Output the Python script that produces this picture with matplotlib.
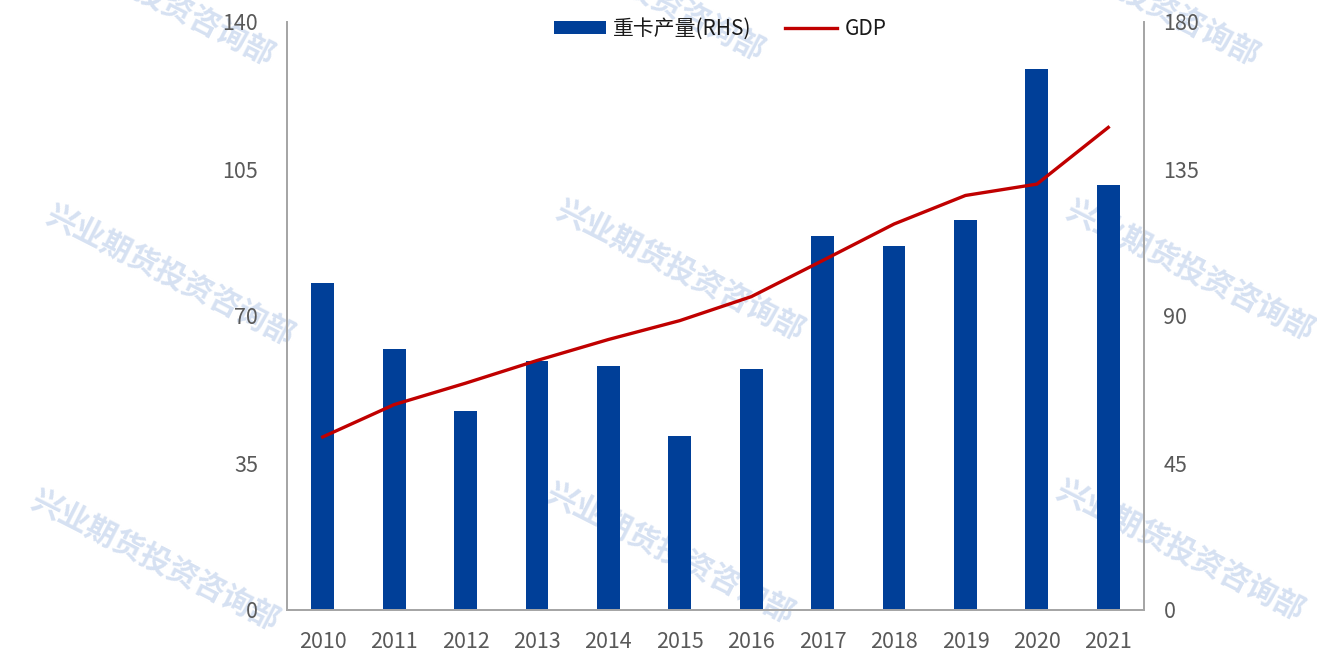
import matplotlib
matplotlib.use("Agg")
import matplotlib.pyplot as plt
from matplotlib.patches import Patch
from matplotlib.lines import Line2D

plt.rcParams['font.family'] = ['Noto Sans CJK SC', 'DejaVu Sans']

years = ['2010', '2011', '2012', '2013', '2014', '2015', '2016', '2017', '2018', '2019', '2020', '2021']
truck_output = [100.1, 79.9, 60.9, 76.2, 74.7, 53.3, 73.8, 114.5, 111.4, 119.4, 165.6, 130.1]
gdp = [41.2, 48.9, 54.0, 59.4, 64.4, 68.9, 74.6, 83.2, 91.9, 98.7, 101.4, 114.9]
left_ticks = [0, 35, 70, 105, 140]
right_ticks = [0, 45, 90, 135, 180]

bar_color = '#003f98'
line_color = '#c00000'
spine_color = '#a6a6a6'
text_color = '#595959'

fig = plt.figure(figsize=(13.17, 6.54), dpi=100)
ax = fig.add_axes([287/1317, 44/654, (1144-287)/1317, (610-22)/654])
ax2 = ax.twinx()

x = list(range(len(years)))
ax2.bar(x, truck_output, width=0.32, color=bar_color, zorder=2)
ax.plot(x, gdp, color=line_color, linewidth=2.4, zorder=3)

# line on top of bars
ax.set_zorder(ax2.get_zorder() + 1)
ax.patch.set_visible(False)
ax2.patch.set_visible(False)

ax.set_xlim(-0.5, len(years) - 0.5)
ax.set_ylim(0, 140)
ax2.set_ylim(0, 180)
ax.set_yticks(left_ticks)
ax2.set_yticks(right_ticks)
ax.set_xticks(x)
ax.set_xticklabels(years)

for a in (ax, ax2):
    a.tick_params(axis='both', length=0, labelsize=15.5, colors=text_color)
    a.spines['top'].set_visible(False)
    for s in ('left', 'right', 'bottom'):
        a.spines[s].set_color(spine_color)
        a.spines[s].set_linewidth(1.3)
ax.tick_params(axis='y', pad=21)
ax2.tick_params(axis='y', pad=14)
ax.tick_params(axis='x', pad=15)
for lab in ax2.get_yticklabels():
    lab.set_horizontalalignment('left')

handles = [Patch(facecolor=bar_color, edgecolor='none'),
           Line2D([0], [0], color=line_color, linewidth=2.4)]
fig.legend(handles, ['重卡产量(RHS)', 'GDP'], loc='center', bbox_to_anchor=(720/1317, 1 - 29/654),
           ncol=2, frameon=False, fontsize=15, handlelength=2.5, handleheight=0.6,
           columnspacing=1.6, handletextpad=0.35, labelcolor='#1a1a1a')

# watermarks (behind the plot)
wm_centers = [(150, -5), (640, -10), (1135, -5),
              (170, 275), (680, 270), (1190, 270),
              (155, 560), (670, 553), (1180, 550)]
for cx, cy in wm_centers:
    fig.text(cx/1317, 1 - cy/654, '兴业期货投资咨询部', rotation=-27, rotation_mode='anchor',
             ha='center', va='center', fontsize=22, fontweight='bold',
             color='#d6e1f2', zorder=-1)

fig.savefig('out.png', dpi=100)
